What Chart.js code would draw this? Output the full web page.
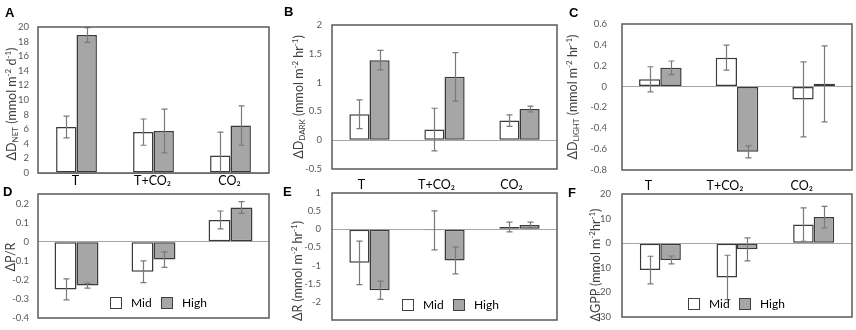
<!DOCTYPE html>
<html><head><meta charset="utf-8">
<script src="https://cdn.jsdelivr.net/npm/chart.js@4.4.1/dist/chart.umd.min.js"></script>
<style>
html,body{margin:0;padding:0;background:#fff;}
#wrap{position:relative;width:856px;height:330px;overflow:hidden;background:#fff;font-family:Lato,'Open Sans',sans-serif;}
canvas{position:absolute;}
.pl{position:absolute;font-family:'Liberation Sans',Arial,sans-serif;font-weight:bold;font-size:13px;color:#000;line-height:1;z-index:5;}
.yt{position:absolute;white-space:nowrap;font-size:12.5px;color:#404040;transform:translate(-50%,-50%) rotate(-90deg);line-height:1;z-index:5;}
.yt sub{font-size:8px;vertical-align:-2px;}
.yt sup{font-size:8px;vertical-align:5px;}
.lg{position:absolute;font-size:12px;color:#000;line-height:1;z-index:5;}
.bx{position:absolute;width:10px;height:10px;border:1px solid #404040;z-index:5;}
</style></head>
<body>
<div id="wrap">
<canvas id="cA" width="280" height="200" style="left:0;top:0"></canvas>
<canvas id="cB" width="284" height="200" style="left:282px;top:0"></canvas>
<canvas id="cC" width="290" height="200" style="left:566px;top:0"></canvas>
<canvas id="cD" width="280" height="180" style="left:0;top:166px"></canvas>
<canvas id="cE" width="284" height="180" style="left:282px;top:166px"></canvas>
<canvas id="cF" width="290" height="180" style="left:566px;top:166px"></canvas>

<div class="pl" style="left:5px;top:6px">A</div>
<div class="pl" style="left:284px;top:5px">B</div>
<div class="pl" style="left:569px;top:6px">C</div>
<div class="pl" style="left:3px;top:185px">D</div>
<div class="pl" style="left:283px;top:185px">E</div>
<div class="pl" style="left:568px;top:186px">F</div>

<div class="yt" style="left:11px;top:104px">ΔD<sub>NET</sub> (mmol m<sup>-2</sup> d<sup>-1</sup>)</div>
<div class="yt" style="left:298px;top:97px">ΔD<sub>DARK</sub> (mmol m<sup>-2</sup> hr<sup>-1</sup>)</div>
<div class="yt" style="left:572px;top:97px">ΔD<sub>LIGHT</sub> (mmol m<sup>-2</sup> hr<sup>-1</sup>)</div>
<div class="yt" style="left:11px;top:257px">ΔP/R</div>
<div class="yt" style="left:297px;top:271px">ΔR (mmol m<sup>-2</sup> hr<sup>-1</sup>)</div>
<div class="yt" style="left:595px;top:265px">ΔGPP (mmol m<sup>-2</sup>hr<sup>-1</sup>)</div>

<div id="legends"></div>
</div>
<script>
// ---- data ----
const categories = ['T', 'T+CO₂', 'CO₂'];
const seriesNames = ['Mid', 'High'];

// A: ΔD_NET
const netMid = [6.3, 5.6, 2.4];
const netMidErr = [1.5, 1.8, 3.2];
const netHigh = [18.9, 5.75, 6.5];
const netHighErr = [1.0, 3.0, 2.7];
const netTicks = [0, 2, 4, 6, 8, 10, 12, 14, 16, 18, 20];

// B: ΔD_DARK
const darkMid = [0.45, 0.185, 0.34];
const darkMidErr = [0.25, 0.37, 0.1];
const darkHigh = [1.39, 1.1, 0.54];
const darkHighErr = [0.17, 0.42, 0.05];
const darkTicks = [-0.5, 0, 0.5, 1, 1.5, 2];

// C: ΔD_LIGHT
const lightMid = [0.07, 0.277, -0.123];
const lightMidErr = [0.12, 0.12, 0.36];
const lightHigh = [0.18, -0.626, 0.026];
const lightHighErr = [0.065, 0.058, 0.365];
const lightTicks = [-0.8, -0.6, -0.4, -0.2, 0, 0.2, 0.4, 0.6];

// D: ΔP/R
const prMid = [-0.25, -0.158, 0.114];
const prMidErr = [0.055, 0.057, 0.047];
const prHigh = [-0.23, -0.094, 0.179];
const prHighErr = [0.013, 0.041, 0.031];
const prTicks = [-0.4, -0.3, -0.2, -0.1, 0, 0.1, 0.2];
const prRange = [-0.4, 0.25];

// E: ΔR
const rMid = [-0.925, -0.03, 0.065];
const rMidErr = [0.6, 0.54, 0.135];
const rHigh = [-1.68, -0.86, 0.12];
const rHighErr = [0.25, 0.37, 0.08];
const rTicks = [-2, -1.5, -1, -0.5, 0, 0.5, 1];
const rRange = [-2.5, 1];

// F: ΔGPP
const gppMid = [-10.9, -13.9, 7.6];
const gppMidErr = [5.6, 9.0, 6.8];
const gppHigh = [-6.8, -2.5, 10.6];
const gppHighErr = [1.6, 4.7, 4.4];
const gppTicks = [-30, -20, -10, 0, 10, 20];

// ---- styling ----
const MID_FILL = '#ffffff';
const HIGH_FILL = '#a6a6a6';
const BAR_BORDER = '#3a3a3a';
const ERR_COLOR = '#7a7a7a';
const BOX_COLOR = '#595959';
const ZERO_COLOR = '#a6a6a6';
const TICK_COLOR = '#595959';

const errorBars = {
  id: 'errorBars',
  afterDatasetsDraw(chart) {
    const ctx = chart.ctx, ys = chart.scales.y, a = chart.chartArea;
    ctx.save();
    ctx.beginPath();
    ctx.rect(a.left, a.top - 1, a.right - a.left, a.bottom - a.top + 2);
    ctx.clip();
    ctx.strokeStyle = ERR_COLOR;
    ctx.lineWidth = 1.2;
    chart.data.datasets.forEach((ds, i) => {
      const meta = chart.getDatasetMeta(i);
      meta.data.forEach((bar, j) => {
        const v = ds.data[j], e = ds.errors[j];
        const x = Math.round(bar.x) + 0.5;
        const y1 = ys.getPixelForValue(v + e), y2 = ys.getPixelForValue(v - e);
        ctx.beginPath();
        ctx.moveTo(x, y1); ctx.lineTo(x, y2);
        ctx.moveTo(x - 3, y1); ctx.lineTo(x + 3, y1);
        ctx.moveTo(x - 3, y2); ctx.lineTo(x + 3, y2);
        ctx.stroke();
      });
    });
    ctx.restore();
  }
};

const boxPlugin = {
  id: 'boxPlugin',
  afterDraw(chart) {
    const ctx = chart.ctx, a = chart.chartArea;
    ctx.save();
    ctx.strokeStyle = BOX_COLOR;
    ctx.lineWidth = 1.5;
    ctx.strokeRect(a.left, a.top, a.right - a.left, a.bottom - a.top);
    ctx.restore();
  }
};

function makeChart(id, spec) {
  const { left, top, w, h, box, mid, midErr, high, highErr, ticks, range, showX, yPad, xPad, xOff, catPct } = spec;
  const XH = 22;
  new Chart(document.getElementById(id), {
    type: 'bar',
    data: {
      labels: categories,
      datasets: [
        { label: seriesNames[0], data: mid, errors: midErr, backgroundColor: MID_FILL, borderColor: BAR_BORDER, borderWidth: 1.5, borderSkipped: false },
        { label: seriesNames[1], data: high, errors: highErr, backgroundColor: HIGH_FILL, borderColor: BAR_BORDER, borderWidth: 1.5, borderSkipped: false }
      ]
    },
    options: {
      responsive: false,
      animation: false,
      events: [],
      datasets: { bar: { barPercentage: 1.0, categoryPercentage: catPct } },
      layout: { padding: { left: 0, top: box.T - top, right: left + w - box.R, bottom: showX ? (top + h - box.B - XH) : (top + h - box.B) } },
      plugins: { legend: { display: false }, tooltip: { enabled: false } },
      scales: {
        x: {
          display: showX,
          grid: { display: false, drawTicks: false },
          border: { display: false },
          ticks: { color: '#000', font: { family: 'Lato', size: 12.5 }, padding: xPad || 0, labelOffset: xOff || 0, maxRotation: 0, autoSkip: false },
          afterFit: s => { s.height = showX ? XH : 0; }
        },
        y: {
          min: range ? range[0] : Math.min(...ticks),
          max: range ? range[1] : Math.max(...ticks),
          afterBuildTicks: s => { s.ticks = ticks.map(v => ({ value: v })); },
          afterFit: s => { s.width = box.L - left; },
          border: { display: false },
          grid: {
            drawTicks: false,
            color: c => (c.tick && Math.abs(c.tick.value) < 1e-9) ? ZERO_COLOR : 'rgba(0,0,0,0)',
            lineWidth: 1
          },
          ticks: { color: TICK_COLOR, font: { family: 'Lato', size: 9.5 }, padding: yPad, callback: v => String(+Number(v).toFixed(6)) }
        }
      }
    },
    plugins: [boxPlugin, errorBars]
  });
}

makeChart('cA', { left: 0, top: 0, w: 280, h: 200, box: { L: 38, R: 269, T: 27, B: 173 }, mid: netMid, midErr: netMidErr, high: netHigh, highErr: netHighErr, ticks: netTicks, showX: true, yPad: 9, xPad: 0, xOff: -1, catPct: 0.53 });
makeChart('cB', { left: 282, top: 0, w: 284, h: 200, box: { L: 332, R: 557, T: 25, B: 169 }, mid: darkMid, midErr: darkMidErr, high: darkHigh, highErr: darkHighErr, ticks: darkTicks, showX: true, yPad: 10, xPad: 8, xOff: -8, catPct: 0.537 });
makeChart('cC', { left: 566, top: 0, w: 290, h: 200, box: { L: 622, R: 852, T: 24, B: 170 }, mid: lightMid, midErr: lightMidErr, high: lightHigh, highErr: lightHighErr, ticks: lightTicks, showX: true, yPad: 15, xPad: 8, xOff: -12, catPct: 0.555 });
makeChart('cD', { left: 0, top: 166, w: 280, h: 180, box: { L: 38, R: 269, T: 194, B: 318 }, mid: prMid, midErr: prMidErr, high: prHigh, highErr: prHighErr, ticks: prTicks, range: prRange, showX: false, yPad: 9, catPct: 0.57 });
makeChart('cE', { left: 282, top: 166, w: 284, h: 180, box: { L: 332, R: 557, T: 193, B: 320 }, mid: rMid, midErr: rMidErr, high: rHigh, highErr: rHighErr, ticks: rTicks, range: rRange, showX: false, yPad: 11, catPct: 0.537 });
makeChart('cF', { left: 566, top: 166, w: 290, h: 180, box: { L: 622, R: 852, T: 194, B: 317 }, mid: gppMid, midErr: gppMidErr, high: gppHigh, highErr: gppHighErr, ticks: gppTicks, showX: false, yPad: 11, catPct: 0.535 });

// legends inside the lower panels
const legendPos = [ { x: 110, y: 297 }, { x: 402, y: 299 }, { x: 688, y: 298 } ];
const lg = document.getElementById('legends');
legendPos.forEach(p => {
  const fills = [MID_FILL, HIGH_FILL];
  const offs = [0, 51];
  seriesNames.forEach((n, i) => {
    const b = document.createElement('div');
    b.className = 'bx';
    b.style.left = (p.x + offs[i]) + 'px';
    b.style.top = p.y + 'px';
    b.style.background = fills[i];
    lg.appendChild(b);
    const t = document.createElement('div');
    t.className = 'lg';
    t.textContent = n;
    t.style.left = (p.x + offs[i] + 21) + 'px';
    t.style.top = (p.y) + 'px';
    lg.appendChild(t);
  });
});
</script>
</body></html>
